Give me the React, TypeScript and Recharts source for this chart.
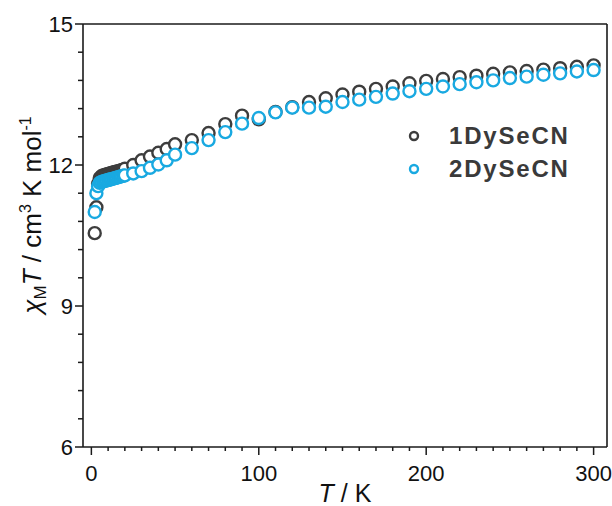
import React from 'react';
import { ScatterChart, Scatter, XAxis, YAxis, ReferenceLine, Legend } from 'recharts';

// temperatures (K) shared by both samples
const temps = [
  2, 3, 4, 5, 6, 7, 8, 9, 10, 11, 12, 13, 14, 15, 16, 17, 18, 19, 20,
  25, 30, 35, 40, 45, 50, 60, 70, 80, 90, 100, 110, 120, 130, 140, 150,
  160, 170, 180, 190, 200, 210, 220, 230, 240, 250, 260, 270, 280, 290, 300,
];

// chi_M T (cm3 K mol-1)
const chiT1 = [
  10.55, 11.1, 11.6, 11.72, 11.76, 11.78, 11.79, 11.8, 11.81, 11.82, 11.83, 11.84, 11.85, 11.86, 11.87, 11.88, 11.89, 11.9, 11.92,
  12.0, 12.1, 12.18, 12.26, 12.34, 12.44, 12.53, 12.68, 12.87, 13.05, 12.97, 13.13, 13.23, 13.34, 13.42, 13.5,
  13.56, 13.62, 13.67, 13.74, 13.79, 13.83, 13.87, 13.9, 13.94, 13.97, 14.0, 14.03, 14.06, 14.09, 14.12,
];
const chiT2 = [
  11.0, 11.4, 11.55, 11.62, 11.64, 11.65, 11.66, 11.67, 11.68, 11.69, 11.7, 11.71, 11.72, 11.73, 11.74, 11.75, 11.76, 11.77, 11.78,
  11.82, 11.87, 11.94, 12.01, 12.1, 12.22, 12.36, 12.53, 12.7, 12.88, 13.0, 13.12, 13.22, 13.22, 13.24, 13.34,
  13.39, 13.45, 13.52, 13.57, 13.62, 13.67, 13.72, 13.76, 13.8, 13.85, 13.88, 13.92, 13.95, 13.99, 14.02,
];

const seriesNames = ['1DySeCN', '2DySeCN'];
const seriesColors = ['#3d3d3d', '#19a9e1'];

const xMajor = [0, 100, 200, 300];
const xTicks = Array.from({ length: 31 }, (_, i) => i * 10);
const yTicks = [6, 6.6, 7.2, 7.8, 8.4, 9, 9.6, 10.2, 10.8, 11.4, 12, 12.6, 13.2, 13.8, 14.4, 15];

const data1 = temps.map((T, i) => ({ T, chi: chiT1[i] }));
const data2 = temps.map((T, i) => ({ T, chi: chiT2[i] }));

const font = '"Liberation Sans", Arial, sans-serif';
const axisColor = '#1a1a1a';

const XTick = (props: any) => {
  const { x, y, payload } = props;
  const major = xMajor.includes(payload.value);
  return (
    <g>
      <line x1={x} x2={x} y1={y} y2={y + (major ? 8 : 4)} stroke={axisColor} strokeWidth={1.5} />
      {major && (
        <text x={x} y={y + 34} textAnchor="middle" fontSize={22} fontFamily={font} fill="#111">
          {payload.value}
        </text>
      )}
    </g>
  );
};

const YTick = (props: any) => {
  const { x, y, payload } = props;
  const major = Math.abs(payload.value % 3) < 1e-6;
  return (
    <g>
      <line x1={x} x2={x - (major ? 8 : 5)} y1={y} y2={y} stroke={axisColor} strokeWidth={1.5} />
      {major && (
        <text x={x - 10} y={y} dy="0.36em" textAnchor="end" fontSize={22} fontFamily={font} fill="#111">
          {payload.value}
        </text>
      )}
    </g>
  );
};

const xLabel = (props: any) => {
  const { viewBox } = props;
  const cx = viewBox.x + viewBox.width / 2;
  return (
    <text x={cx} y={viewBox.y + 55} textAnchor="middle" fontSize={25} fontFamily={font} fill="#111">
      <tspan fontStyle="italic">T</tspan> / K
    </text>
  );
};

const yLabel = () => {
  const x = 41;
  const y = 215;
  return (
    <text x={x} y={y} transform={`rotate(-90, ${x}, ${y})`} textAnchor="middle" fontSize={26} fontFamily={font} fill="#111">
      <tspan fontStyle="italic">χ</tspan>
      <tspan fontSize={17} dy={5}>M</tspan>
      <tspan fontStyle="italic" dy={-5}>T</tspan>
      <tspan> / cm</tspan>
      <tspan fontSize={16} dy={-10}>3</tspan>
      <tspan dy={10}> K mol</tspan>
      <tspan fontSize={16} dy={-10}>-1</tspan>
    </text>
  );
};

const circleShape = (color: string, r: number) => (props: any) => (
  <circle cx={props.cx} cy={props.cy} r={r} fill="#fff" stroke={color} strokeWidth={2.4} />
);

const renderLegend = () => (
  <div style={{ fontFamily: font }}>
    {seriesNames.map((name, i) => (
      <div key={name} style={{ display: 'flex', alignItems: 'center', height: 33 }}>
        <svg width={30} height={20}>
          <circle cx={15} cy={10} r={4} fill="#fff" stroke={seriesColors[i]} strokeWidth={2.4} />
        </svg>
        <span style={{ marginLeft: 20, fontSize: 24, fontWeight: 'bold', color: '#3a3a3a', letterSpacing: 1.8 }}>{name}</span>
      </div>
    ))}
  </div>
);

export default function App() {
  return (
    <div style={{ position: 'absolute', left: 0, top: 0, background: '#fff' }}>
      <ScatterChart width={612} height={506} margin={{ top: 24, right: 5, bottom: 0, left: 0 }}>
        <XAxis
          dataKey="T"
          type="number"
          domain={[-5, 308]}
          allowDataOverflow
          ticks={xTicks}
          interval={0}
          tickSize={0}
          tickMargin={0}
          tickLine={false}
          tick={XTick}
          height={59}
          axisLine={{ stroke: axisColor, strokeWidth: 1.6 }}
          label={{ content: xLabel }}
        />
        <YAxis
          dataKey="chi"
          type="number"
          domain={[6, 15]}
          allowDataOverflow
          ticks={yTicks}
          interval={0}
          tickSize={0}
          tickMargin={0}
          tickLine={false}
          tick={YTick}
          width={83}
          axisLine={{ stroke: axisColor, strokeWidth: 1.6 }}
          label={{ content: yLabel }}
        />
        <ReferenceLine y={15} stroke={axisColor} strokeWidth={1.6} />
        <ReferenceLine x={308} stroke={axisColor} strokeWidth={1.6} />
        <Legend
          layout="vertical"
          align="center"
          verticalAlign="middle"
          wrapperStyle={{ left: 399, top: 119, width: 210 }}
          content={renderLegend}
        />
        <Scatter name={seriesNames[0]} data={data1} shape={circleShape(seriesColors[0], 6)} isAnimationActive={false} />
        <Scatter name={seriesNames[1]} data={data2} shape={circleShape(seriesColors[1], 6)} isAnimationActive={false} />
      </ScatterChart>
    </div>
  );
}
